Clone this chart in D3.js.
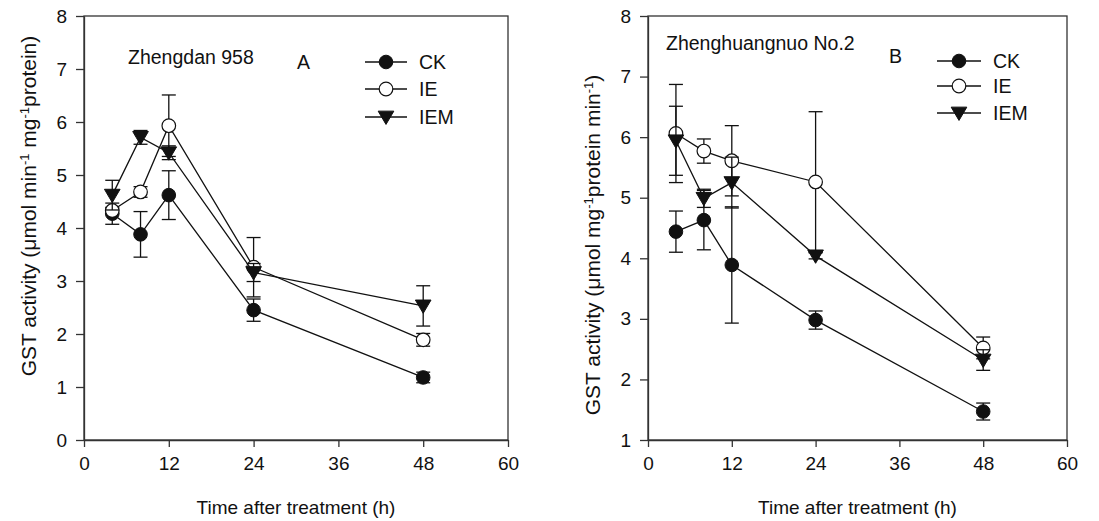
<!DOCTYPE html>
<html><head><meta charset="utf-8">
<script src="https://cdn.jsdelivr.net/npm/d3@7"></script>
<style>
html,body{margin:0;padding:0;background:#fff;}
svg text{font-family:"Liberation Sans",Arial,sans-serif;fill:#111;}
</style></head>
<body><svg id="c" width="1099" height="521"></svg>
<script>
const hours = [4, 8, 12, 24, 48];
const xTicks = [0, 12, 24, 36, 48, 60];
const seriesNames = ["CK", "IE", "IEM"];

// Panel A: Zhengdan 958
const A_CK = [4.27, 3.88, 4.62, 2.45, 1.18];
const A_CK_err = [0.20, 0.43, 0.46, 0.21, 0.10];
const A_IE = [4.33, 4.68, 5.93, 3.26, 1.89];
const A_IE_err = [0.06, 0.10, 0.58, 0.56, 0.12];
const A_IEM = [4.62, 5.71, 5.42, 3.16, 2.53];
const A_IEM_err = [0.28, 0.13, 0.13, 0.17, 0.38];
const A_yTicks = [0, 1, 2, 3, 4, 5, 6, 7, 8];

// Panel B: Zhenghuangnuo No.2
const B_CK = [4.44, 4.63, 3.89, 2.98, 1.47];
const B_CK_err = [0.34, 0.49, 0.96, 0.15, 0.14];
const B_IE = [6.06, 5.77, 5.61, 5.26, 2.52];
const B_IE_err = [0.81, 0.20, 0.58, 1.16, 0.18];
const B_IEM = [5.94, 4.99, 5.25, 4.04, 2.32];
const B_IEM_err = [0.57, 0.15, 0.42, 0.05, 0.17];
const B_yTicks = [1, 2, 3, 4, 5, 6, 7, 8];

const svg = d3.select("#c");
const ink = "#111";

function marker(g, type, x, y, r) {
  if (type === "CK") {
    g.append("circle").attr("cx", x).attr("cy", y).attr("r", r).attr("fill", ink).attr("stroke", ink);
  } else if (type === "IE") {
    g.append("circle").attr("cx", x).attr("cy", y).attr("r", r).attr("fill", "#fff").attr("stroke", ink).attr("stroke-width", 1.2);
  } else {
    const s = r * 1.15;
    g.append("path").attr("d", `M${x - s},${y - s * 0.75}L${x + s},${y - s * 0.75}L${x},${y + s * 0.95}Z`)
      .attr("fill", ink).attr("stroke", ink).attr("stroke-width", 1);
  }
}

function panel(cfg) {
  const x = d3.scaleLinear().domain([0, 60]).range([cfg.x0, cfg.x1]);
  const y = d3.scaleLinear().domain(cfg.yDomain).range([440, 16]);
  const g = svg.append("g");

  // frame
  g.append("rect").attr("x", cfg.x0).attr("y", 16).attr("width", cfg.x1 - cfg.x0).attr("height", 424)
    .attr("fill", "none").attr("stroke", "#333").attr("stroke-width", 1.3);

  const ax = g.append("g").attr("transform", "translate(0,440)")
    .call(d3.axisBottom(x).tickValues(xTicks).tickFormat(d3.format("d")).tickSize(7).tickPadding(10).tickSizeOuter(0));
  const ay = g.append("g").attr("transform", `translate(${cfg.x0},0)`)
    .call(d3.axisLeft(y).tickValues(cfg.yTicks).tickFormat(d3.format("d")).tickSize(8).tickPadding(9).tickSizeOuter(0));
  [ax, ay].forEach(a => {
    a.select(".domain").attr("stroke", "#333").attr("stroke-width", 1.3);
    a.selectAll(".tick line").attr("stroke", "#333").attr("stroke-width", 1.3);
    a.selectAll(".tick text").attr("font-size", 19).attr("fill", "#111")
      .style("font-family", '"Liberation Sans",Arial,sans-serif');
  });

  // axis titles
  g.append("text").attr("x", (cfg.x0 + cfg.x1) / 2).attr("y", 514).attr("text-anchor", "middle")
    .attr("font-size", 19).text("Time after treatment (h)");
  const yt = g.append("text").attr("transform", `translate(${cfg.titleX},${cfg.titleY}) rotate(-90)`)
    .attr("text-anchor", "middle").attr("font-size", 21);
  cfg.yTitle.forEach(p => {
    const ts = yt.append("tspan").text(p.t);
    if (p.sup) ts.attr("font-size", 13).attr("baseline-shift", "55%");
  });

  // label texts
  g.append("text").attr("x", cfg.nameX).attr("y", cfg.nameY).attr("font-size", 19.5).text(cfg.name);
  g.append("text").attr("x", cfg.letterX).attr("y", cfg.letterY).attr("font-size", 19.5).text(cfg.letter);

  // series
  cfg.series.forEach((s, i) => {
    const sg = g.append("g");
    s.vals.forEach((v, j) => {
      const cx = x(hours[j]);
      const e = s.err[j];
      sg.append("line").attr("x1", cx).attr("x2", cx).attr("y1", y(v - e)).attr("y2", y(v + e))
        .attr("stroke", ink).attr("stroke-width", 1.3);
      [v - e, v + e].forEach(w => sg.append("line").attr("x1", cx - 7).attr("x2", cx + 7)
        .attr("y1", y(w)).attr("y2", y(w)).attr("stroke", ink).attr("stroke-width", 1.3));
    });
    sg.append("path").datum(s.vals)
      .attr("d", d3.line().x((d, j) => x(hours[j])).y(d => y(d)))
      .attr("fill", "none").attr("stroke", ink).attr("stroke-width", 1.3);
    s.vals.forEach((v, j) => marker(sg, seriesNames[i], x(hours[j]), y(v), 6.8));
  });

  // legend
  seriesNames.forEach((n, i) => {
    const ly = cfg.legY[i];
    g.append("line").attr("x1", cfg.legX0).attr("x2", cfg.legX1).attr("y1", ly).attr("y2", ly)
      .attr("stroke", ink).attr("stroke-width", 1.3);
    marker(g, n, (cfg.legX0 + cfg.legX1) / 2, ly, 6.8);
    g.append("text").attr("x", cfg.legX1 + 12).attr("y", ly + 7).attr("font-size", 19.5).text(n);
  });
}

panel({
  x0: 84, x1: 508, yDomain: [0, 8], yTicks: A_yTicks,
  series: [{vals: A_CK, err: A_CK_err}, {vals: A_IE, err: A_IE_err}, {vals: A_IEM, err: A_IEM_err}],
  name: "Zhengdan 958", nameX: 128, nameY: 64, letter: "A", letterX: 297, letterY: 69,
  legX0: 365, legX1: 407, legY: [62, 89, 117],
  titleX: 36, titleY: 206,
  yTitle: [{t: "GST activity (μmol min"}, {t: "-1", sup: true}, {t: " mg"}, {t: "-1", sup: true}, {t: "protein)"}]
});

panel({
  x0: 648, x1: 1067, yDomain: [1, 8], yTicks: B_yTicks,
  series: [{vals: B_CK, err: B_CK_err}, {vals: B_IE, err: B_IE_err}, {vals: B_IEM, err: B_IEM_err}],
  name: "Zhenghuangnuo No.2", nameX: 666, nameY: 50, letter: "B", letterX: 889, letterY: 63,
  legX0: 937, legX1: 981, legY: [61, 86, 113],
  titleX: 600, titleY: 245,
  yTitle: [{t: "GST activity (μmol mg"}, {t: "-1", sup: true}, {t: "protein  min"}, {t: "-1", sup: true}, {t: ")"}]
});
</script></body></html>
